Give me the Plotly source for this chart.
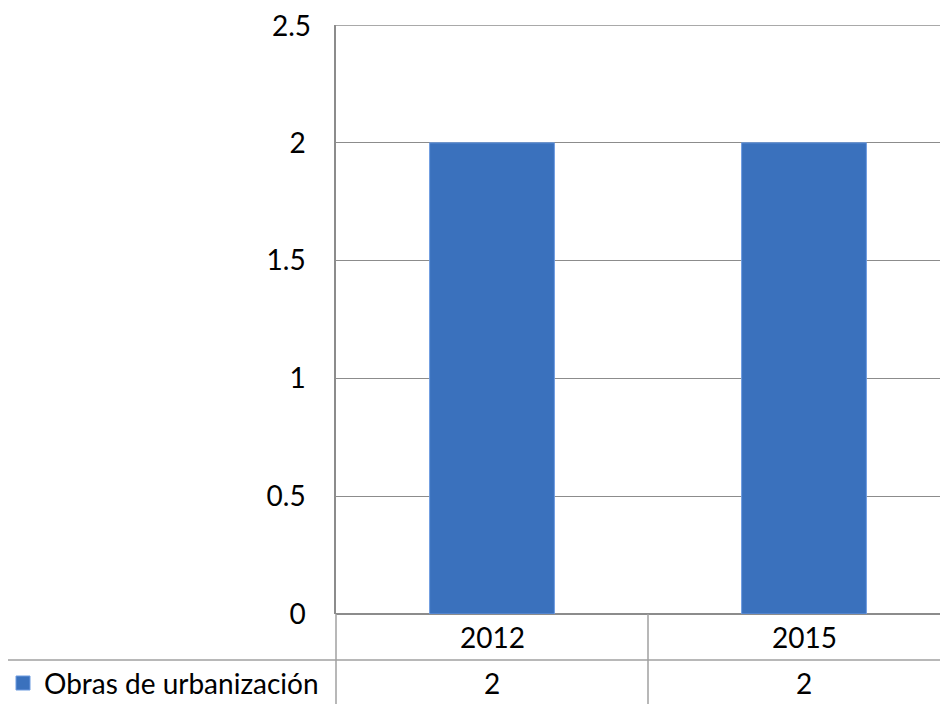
import plotly.graph_objects as go

categories = ["2012", "2015"]
series_name = "Obras de urbanización"
values = [2, 2]
y_ticks = [0, 0.5, 1, 1.5, 2, 2.5]
y_tick_labels = ["0", "0.5", "1", "1.5", "2", "2.5"]

OX, OY = 8, 8           # page offset of the figure in the browser
W, H = 948 - OX, 704 - OY
L, T = 336 - OX, 25 - OY
plot_bottom = 614 - OY
B = H - plot_bottom
plot_h = plot_bottom - T
plot_w = W - L
FONT = "Lato"
FS = 28
GRID = "#8c8c8c"
TABLE = "#a0a0a0"
BAR = "#3a71bd"
STANDOFF = 23

def py(screen_y):
    return (plot_bottom - (screen_y - OY)) / plot_h

def px(screen_x):
    return ((screen_x - OX) - L) / plot_w

fig = go.Figure()
xs = list(range(len(categories)))
fig.add_trace(go.Bar(
    x=xs, y=values, width=0.4, name=series_name,
    marker=dict(color=BAR, line=dict(color="#6d9be0", width=1)),
    showlegend=False,
))

shapes = []
# top gridline (at the end of the range)
shapes.append(dict(type="line", xref="paper", yref="y",
                   x0=0, x1=1, y0=y_ticks[-1], y1=y_ticks[-1],
                   line=dict(color=GRID, width=1.5)))
shapes.append(dict(type="line", xref="paper", yref="paper",
                   x0=px(5), x1=1, y0=py(660), y1=py(660),
                   line=dict(color=TABLE, width=1.5)))
shapes.append(dict(type="line", xref="paper", yref="paper",
                   x0=px(5), x1=px(5), y0=py(660), y1=py(710),
                   line=dict(color=TABLE, width=1.5)))
shapes.append(dict(type="line", xref="paper", yref="paper",
                   x0=0, x1=0, y0=0, y1=py(710),
                   line=dict(color=TABLE, width=1.5)))
for i in range(len(categories) - 1):
    shapes.append(dict(type="line", xref="x", yref="paper",
                       x0=i + 0.5, x1=i + 0.5, y0=0, y1=py(710),
                       line=dict(color=TABLE, width=1.5)))
shapes.append(dict(type="rect", xref="paper", yref="paper",
                   x0=px(16), x1=px(30), y0=py(690), y1=py(676),
                   fillcolor=BAR, line=dict(color="#6d9be0", width=1)))

annotations = []
for i, c in enumerate(categories):
    annotations.append(dict(x=i, y=py(637), xref="x", yref="paper", text=c,
                            xanchor="center", yanchor="middle",
                            showarrow=False, font=dict(family=FONT, size=FS, color="#000")))
    annotations.append(dict(x=i, y=py(683), xref="x", yref="paper", text=str(values[i]),
                            xanchor="center", yanchor="middle",
                            showarrow=False, font=dict(family=FONT, size=FS, color="#000")))
annotations.append(dict(x=px(42), y=py(683), xref="paper", yref="paper",
                        text=series_name, xanchor="left", yanchor="middle", showarrow=False,
                        font=dict(family=FONT, size=FS, color="#000")))
# top tick label (plotly culls it at the figure edge)
annotations.append(dict(x=0, y=y_ticks[-1], xref="paper", yref="y", text=y_tick_labels[-1],
                        xanchor="right", yanchor="middle", xshift=-STANDOFF, showarrow=False,
                        font=dict(family=FONT, size=FS, color="#000")))

cat_px = 312
fig.update_layout(
    width=W, height=H,
    margin=dict(l=L, r=0, t=T, b=B, pad=0),
    paper_bgcolor="white", plot_bgcolor="white",
    xaxis=dict(range=[-0.5, -0.5 + plot_w / cat_px], showticklabels=False,
               showgrid=False, zeroline=False, showline=False, fixedrange=True),
    yaxis=dict(range=[0, 2.5], tickvals=y_ticks[:-1], ticktext=y_tick_labels[:-1],
               showgrid=True, gridcolor=GRID, gridwidth=1,
               zeroline=True, zerolinecolor=GRID, zerolinewidth=1.5,
               showline=True, linecolor=GRID, linewidth=1.5,
               ticks="", ticklabelstandoff=STANDOFF,
               tickfont=dict(family=FONT, size=FS, color="#000")),
    shapes=shapes, annotations=annotations,
)
fig.write_html("out.html", config={"displayModeBar": False})
